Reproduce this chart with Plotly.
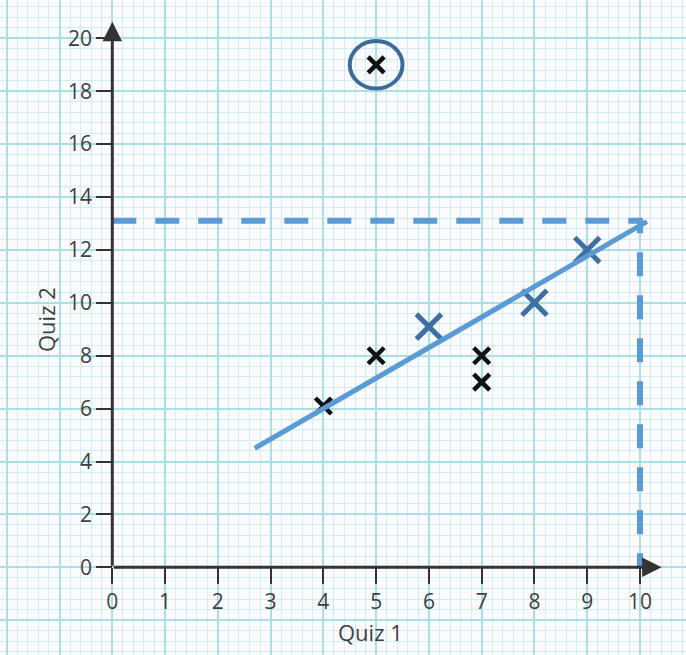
import plotly.graph_objects as go

# pontos (Quiz 1, Quiz 2)
quiz1_black = [4, 5, 7, 7, 5]
quiz2_black = [6.1, 8, 8, 7, 19]
quiz1_blue = [6, 8, 9]
quiz2_blue = [9.1, 10, 12]

# linha de tendencia e linhas guia tracejadas
fit_x = [2.7, 10.13]
fit_y = [4.5, 13.07]
guide_x = [0, 10, 10]
guide_y = [13.1, 13.1, 0]

# valor circulado (outlier)
outlier_x = 5
outlier_y = 19

x_ticks = list(range(0, 11))
y_ticks = list(range(0, 21, 2))

x_range = [-2.128, 10.872]
y_range = [-3.316, 21.45]

AX = '#333333'
TXT = '#3f3f3f'
BLUE = '#5b9bd5'
DARKBLUE = '#3d6fa3'

fig = go.Figure()

fig.add_trace(go.Scatter(x=guide_x, y=guide_y, mode='lines',
                         line=dict(color=BLUE, width=6, dash='24px,19px'),
                         showlegend=False, hoverinfo='skip'))

fig.add_trace(go.Scatter(x=quiz1_black, y=quiz2_black, mode='markers',
                         marker=dict(symbol='x-thin', size=16,
                                     line=dict(color='#111111', width=4.5)),
                         showlegend=False))
fig.add_trace(go.Scatter(x=quiz1_blue, y=quiz2_blue, mode='markers',
                         marker=dict(symbol='x-thin', size=25,
                                     line=dict(color=DARKBLUE, width=5)),
                         showlegend=False))

fig.add_trace(go.Scatter(x=fit_x, y=fit_y, mode='lines',
                         line=dict(color=BLUE, width=5),
                         showlegend=False, hoverinfo='skip'))

# circulo em volta do outlier
fig.add_shape(type='circle', xref='x', yref='y',
              x0=outlier_x - 0.5, x1=outlier_x + 0.5,
              y0=outlier_y - 0.9, y1=outlier_y + 0.9,
              line=dict(color='#3e6a9a', width=4))

# eixos com setas
fig.add_annotation(x=10.41, y=0, ax=0, ay=0, xref='x', yref='y', axref='x', ayref='y',
                   showarrow=True, arrowhead=2, arrowsize=1.3, arrowwidth=3,
                   arrowcolor=AX, text='')
fig.add_annotation(x=0, y=20.63, ax=0, ay=0, xref='x', yref='y', axref='x', ayref='y',
                   showarrow=True, arrowhead=2, arrowsize=1.3, arrowwidth=3,
                   arrowcolor=AX, text='')

# titulos dos eixos
fig.add_annotation(x=370 / 686, y=1 - 632 / 655, xref='paper', yref='paper',
                   text='Quiz 1', showarrow=False,
                   xanchor='center', yanchor='middle',
                   font=dict(size=22, color=TXT))
fig.add_annotation(x=46 / 686, y=1 - 320 / 655, xref='paper', yref='paper',
                   text='Quiz 2', showarrow=False, textangle=-90,
                   xanchor='center', yanchor='middle',
                   font=dict(size=22, color=TXT))

x_pos = (0 - y_range[0]) / (y_range[1] - y_range[0])
y_pos = (0 - x_range[0]) / (x_range[1] - x_range[0])

fig.update_layout(
    width=686, height=655,
    margin=dict(l=0, r=0, t=0, b=0),
    paper_bgcolor='#fbfbfe', plot_bgcolor='#fbfbfe',
    font=dict(family='Open Sans, sans-serif', color=TXT),
    xaxis=dict(range=x_range, dtick=1, tick0=0, showticklabels=False, ticks='',
               showgrid=True, gridcolor='#a9dfe8', gridwidth=2, zeroline=False,
               minor=dict(dtick=0.2, showgrid=True, gridcolor='#cfeef2', gridwidth=1)),
    yaxis=dict(range=y_range, dtick=2, tick0=0, showticklabels=False, ticks='',
               showgrid=True, gridcolor='#a9dfe8', gridwidth=2, zeroline=False,
               minor=dict(dtick=0.4, showgrid=True, gridcolor='#cfeef2', gridwidth=1)),
    xaxis2=dict(range=x_range, overlaying='x', anchor='free', position=x_pos,
                tickmode='array', tickvals=x_ticks, ticks='outside', ticklen=16,
                tickwidth=2, tickcolor=AX, showgrid=False, zeroline=False,
                tickfont=dict(size=21, color=TXT), side='bottom'),
    yaxis2=dict(range=y_range, overlaying='y', anchor='free', position=y_pos,
                tickmode='array', tickvals=y_ticks, ticks='outside', ticklen=16,
                tickwidth=2, tickcolor=AX, showgrid=False, zeroline=False,
                tickfont=dict(size=21, color=TXT), side='left'),
)

# traco invisivel para ativar os eixos 2
fig.add_trace(go.Scatter(x=[0], y=[0], xaxis='x2', yaxis='y2', mode='markers',
                         marker=dict(opacity=0), showlegend=False, hoverinfo='skip'))

fig.write_html("out.html", config={'displayModeBar': False},
               post_script="document.body.style.margin='0';")
